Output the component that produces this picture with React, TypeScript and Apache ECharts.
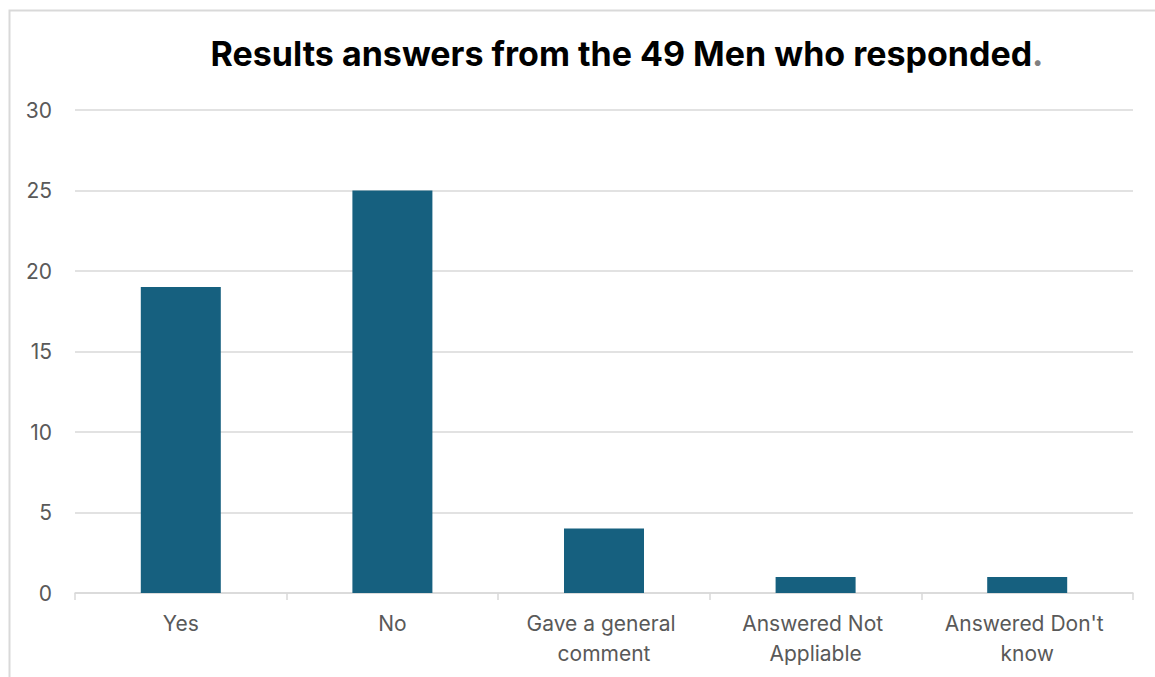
import React, { useEffect, useRef } from "react";
import * as echarts from "echarts";

const categories = [
  "Yes",
  "No",
  "Gave a general comment",
  "Answered Not Appliable",
  "Answered Don't know",
];
const counts = [19, 25, 4, 1, 1];
const yTicks = { min: 0, max: 30, interval: 5 };
const titleMain = "Results answers from the 49 Men who responded";
const titleEnd = ".";

const FONT = "Inter, 'Liberation Sans', Arial, sans-serif";

export default function App() {
  const ref = useRef<HTMLDivElement>(null);
  useEffect(() => {
    if (!ref.current) return;
    const chart = echarts.init(ref.current, null, { renderer: "svg" });
    chart.setOption({
      animation: false,
      backgroundColor: "#ffffff",
      graphic: [
        {
          type: "rect",
          shape: { x: 9.5, y: 10.5, width: 1160, height: 700 },
          style: { fill: "none", stroke: "#d9d9d9", lineWidth: 2 },
          silent: true,
        },
      ],
      title: {
        text: "{m|" + titleMain + "}{p|" + titleEnd + "}",
        left: 622,
        top: 31,
        textAlign: "center",
        textStyle: {
          rich: {
            m: { fontFamily: FONT, fontWeight: "bold", fontSize: 34, color: "#000000" },
            p: { fontFamily: FONT, fontWeight: "bold", fontSize: 34, color: "#808080" },
          },
        },
      },
      grid: { left: 75, right: 22, top: 110, bottom: 84, containLabel: false },
      xAxis: {
        type: "category",
        data: categories,
        axisLine: { lineStyle: { color: "#d9d9d9", width: 1.5 } },
        axisTick: { show: true, length: 7, lineStyle: { color: "#d9d9d9", width: 1.5 } },
        axisLabel: {
          color: "#595959",
          fontSize: 21,
          fontFamily: FONT,
          margin: 15,
          width: 195,
          overflow: "break",
          lineHeight: 30,
          interval: 0,
        },
      },
      yAxis: {
        type: "value",
        min: yTicks.min,
        max: yTicks.max,
        interval: yTicks.interval,
        axisLine: { show: false },
        axisTick: { show: false },
        splitLine: { lineStyle: { color: "#d9d9d9", width: 1.5 } },
        axisLabel: {
          color: "#595959",
          fontSize: 21,
          fontFamily: FONT,
          margin: 23,
        },
      },
      series: [
        {
          type: "bar",
          data: counts,
          barWidth: 80,
          itemStyle: { color: "#16607f" },
        },
      ],
    });
    return () => chart.dispose();
  }, []);
  return (
    <div
      ref={ref}
      style={{ position: "fixed", left: 0, top: 0, width: 1155, height: 677 }}
    />
  );
}
